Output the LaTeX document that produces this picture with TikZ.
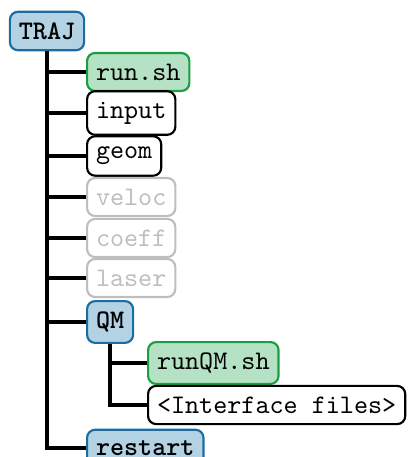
\documentclass[tikz,border=0pt]{standalone}
\usepackage{tikz}

\definecolor{dirfill}{RGB}{179,211,229}
\definecolor{dirline}{RGB}{28,108,160}
\definecolor{shfill}{RGB}{181,226,196}
\definecolor{shline}{RGB}{26,158,66}
\definecolor{optgray}{RGB}{190,190,190}

\begin{document}
\begin{tikzpicture}[x=0.373pt, y=-0.373pt,
	box/.style={draw, thick, rounded corners=3pt, inner ysep=4pt, font=\ttfamily, anchor=west},
	dir/.style={box, draw=dirline, fill=dirfill, font=\ttfamily\bfseries},
	script/.style={box, draw=shline, fill=shfill},
	optional/.style={box, draw=optgray, text=optgray},
	branch/.style={line width=1.5pt}]
	\useasboundingbox (0,0) rectangle (412,457);
	%\draw [help lines, step=20] (0,0) grid (412,457);
	\node [dir, anchor=center] (traj) at (47,31) {TRAJ};
	\node [script] (runsh) at (86,72) {run.sh};
	\node [box] (input) at (86,113) {input};
	\node [box] (geom) at (86,156) {geom};
	\node [optional] (veloc) at (86,197) {veloc};
	\node [optional] (coeff) at (86,238) {coeff};
	\node [optional] (laser) at (86,278) {laser};
	\node [dir] (qm) at (86,322) {QM};
	\node [script] (runqm) at (147,363) {runQM.sh};
	\node [box] (iface) at (147,405) {<Interface files>};
	\node [dir] (restart) at (86,448) {restart};
	% tree lines
	\foreach \n in {runsh,input,geom,veloc,coeff,laser,qm}
		\draw [branch] (traj.south |- \n.west) -- (\n.west);
	\draw [branch] (traj.south) |- (restart.west);
	\draw [branch] (qm.south |- runqm.west) -- (runqm.west);
	\draw [branch] (qm.south) |- (iface.west);
\end{tikzpicture}
\end{document}
